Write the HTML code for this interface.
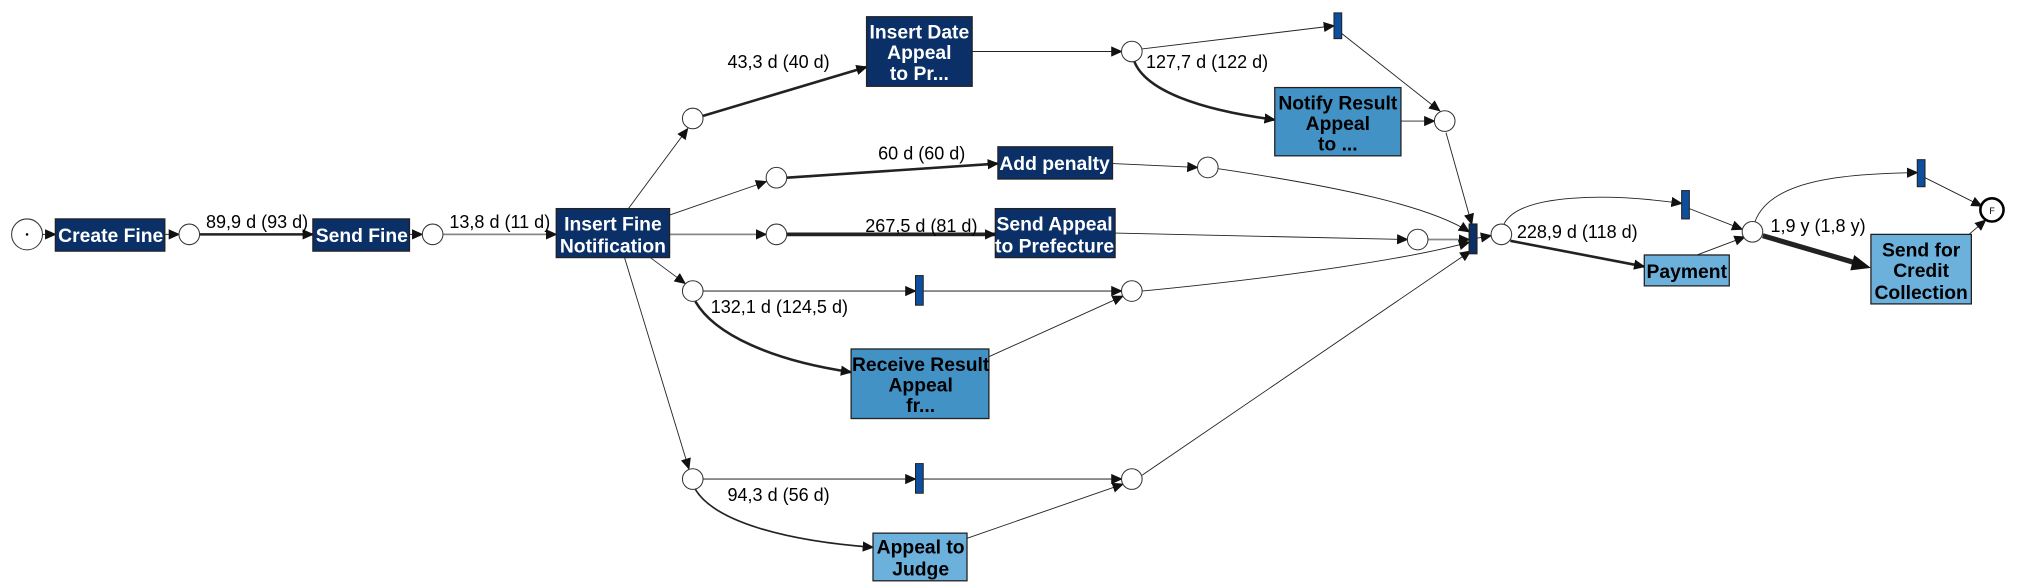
<!DOCTYPE html>
<html><head><meta charset="utf-8"><style>
html,body{margin:0;padding:0;background:#fff;}
svg{display:block;}
.l{font-family:"Liberation Sans Narrow","Liberation Sans",sans-serif;font-size:14px;fill:#000;}
.bw{font-family:"Liberation Sans Narrow","Liberation Sans",sans-serif;font-size:15px;font-weight:bold;fill:#fff;text-anchor:middle;}
.bb{font-family:"Liberation Sans Narrow","Liberation Sans",sans-serif;font-size:15px;font-weight:bold;fill:#000;text-anchor:middle;}
.d{fill:#0b3068;stroke:#222;stroke-width:1;}
.m{fill:#4392c6;stroke:#222;stroke-width:1;}
.lt{fill:#6cb0dc;stroke:#222;stroke-width:1;}
.p{fill:#fff;stroke:#333;stroke-width:0.8;}
.t{fill:#0d4f9e;stroke:#222;stroke-width:0.8;}
.e{fill:none;stroke:#222;stroke-width:0.7;}
.g{fill:none;stroke:#888;stroke-width:1.4;}
</style></head><body>
<svg width="2019" height="588" viewBox="0 0 1568 456.6" preserveAspectRatio="none" xmlns="http://www.w3.org/2000/svg">
<defs>
<marker id="a" markerUnits="userSpaceOnUse" markerWidth="9" markerHeight="8" refX="8" refY="4" orient="auto"><path d="M0,0 L9,4 L0,8 z" fill="#111"/></marker>
</defs>
<g marker-end="url(#a)">
<line class="e" x1="33" y1="182" x2="43" y2="182"/>
<line class="e" x1="128" y1="182" x2="139" y2="182"/>
<line class="e" style="stroke-width:2" x1="155" y1="182" x2="243" y2="182"/>
<line class="e" x1="318" y1="182" x2="328" y2="182"/>
<line class="g" x1="344" y1="182" x2="432" y2="182"/>
<line class="e" x1="488" y1="162" x2="534" y2="100"/>
<line class="e" style="stroke-width:2" x1="546" y1="90" x2="673" y2="52"/>
<line class="e" x1="520" y1="167" x2="595" y2="141"/>
<line class="e" style="stroke-width:2" x1="611" y1="138" x2="775" y2="127"/>
<line class="g" x1="520" y1="182" x2="595" y2="182"/>
<line class="e" style="stroke-width:3" x1="611" y1="182" x2="773" y2="182"/>
<line class="e" x1="505" y1="200" x2="532" y2="220"/>
<line class="g" x1="546" y1="226" x2="711" y2="226"/>
<line class="g" x1="717" y1="226" x2="871" y2="226"/>
<path class="e" style="stroke-width:2" d="M540,234 C555,260 600,280 661,289"/>
<line class="e" x1="768" y1="277" x2="872" y2="230"/>
<line class="e" x1="485" y1="200" x2="535" y2="364"/>
<line class="g" x1="546" y1="372" x2="711" y2="372"/>
<line class="g" x1="717" y1="372" x2="871" y2="372"/>
<path class="e" style="stroke-width:1.3" d="M540,380 C555,405 610,420 678,425"/>
<line class="e" x1="751" y1="418" x2="872" y2="376"/>
<line class="e" x1="755" y1="40" x2="871" y2="40"/>
<line class="e" x1="887" y1="38" x2="1036" y2="20"/>
<path class="e" style="stroke-width:2" d="M881,48 C890,70 930,85 990,93"/>
<line class="e" x1="1088" y1="94" x2="1114" y2="94"/>
<line class="e" x1="1042" y1="26" x2="1118" y2="86"/>
<line class="e" x1="1123" y1="103" x2="1143" y2="174"/>
<line class="e" x1="864" y1="127" x2="930" y2="130"/>
<path class="e" d="M946,131 C1040,145 1110,160 1141,180"/>
<line class="e" x1="866" y1="181" x2="1093" y2="186"/>
<line class="g" x1="1109" y1="186" x2="1141" y2="186"/>
<path class="e" d="M887,226 C1000,215 1100,200 1141,188"/>
<line class="e" x1="887" y1="369" x2="1142" y2="195"/>
<line class="e" x1="1147" y1="185" x2="1158" y2="183"/>
<path class="e" d="M1168,174 C1180,150 1250,150 1306,158"/>
<line class="e" style="stroke-width:2" x1="1173" y1="187" x2="1277" y2="207"/>
<line class="e" x1="1312" y1="162" x2="1353" y2="178"/>
<line class="e" x1="1318" y1="198" x2="1355" y2="184"/>
<path class="e" d="M1363,172 C1375,140 1430,135 1489,134"/>
<line class="e" x1="1495" y1="138" x2="1539" y2="160"/>
<line class="e" x1="1528" y1="183" x2="1542" y2="171"/>
</g>
<line class="e" style="stroke-width:4" x1="1369" y1="183" x2="1444" y2="205"/>
<path d="M1453,208 L1440,198 L1437,210 z" fill="#111"/>
<circle class="p" cx="21" cy="182" r="12"/><circle cx="21" cy="182" r="1" fill="#000"/>
<ellipse class="p" cx="147" cy="182" rx="8" ry="8"/>
<ellipse class="p" cx="336" cy="182" rx="8" ry="8"/>
<ellipse class="p" cx="538" cy="92" rx="8" ry="8"/>
<ellipse class="p" cx="603" cy="138" rx="8" ry="8"/>
<ellipse class="p" cx="603" cy="182" rx="8" ry="8"/>
<ellipse class="p" cx="538" cy="226" rx="8" ry="8"/>
<ellipse class="p" cx="538" cy="372" rx="8" ry="8"/>
<ellipse class="p" cx="879" cy="40" rx="8" ry="8"/>
<ellipse class="p" cx="1122" cy="94" rx="8" ry="8"/>
<ellipse class="p" cx="938" cy="130" rx="8" ry="8"/>
<ellipse class="p" cx="1101" cy="186" rx="8" ry="8"/>
<ellipse class="p" cx="879" cy="226" rx="8" ry="8"/>
<ellipse class="p" cx="879" cy="372" rx="8" ry="8"/>
<ellipse class="p" cx="1166" cy="182" rx="8" ry="8"/>
<ellipse class="p" cx="1361" cy="180" rx="8" ry="8"/>
<circle cx="1547" cy="163" r="9" fill="#fff" stroke="#000" stroke-width="2"/>
<text x="1547" y="166" font-family="Liberation Sans" font-size="7" text-anchor="middle">F</text>
<rect class="t" x="1036" y="10" width="6" height="20"/>
<rect class="t" x="711" y="214" width="6" height="23"/>
<rect class="t" x="711" y="360" width="6" height="23"/>
<rect class="d" x="1141" y="174" width="6" height="23"/>
<rect class="t" x="1306" y="148" width="6" height="22"/>
<rect class="t" x="1489" y="124" width="6" height="21"/>
<rect class="d" x="43" y="170" width="85" height="25"/><text class="bw" x="86" y="188">Create Fine</text>
<rect class="d" x="243" y="170" width="75" height="25"/><text class="bw" x="281" y="188">Send Fine</text>
<rect class="d" x="432" y="162" width="88" height="38"/><text class="bw" x="476" y="179">Insert Fine</text><text class="bw" x="476" y="196">Notification</text>
<rect class="d" x="673" y="13" width="82" height="54"/><text class="bw" x="714" y="30">Insert Date</text><text class="bw" x="714" y="46">Appeal</text><text class="bw" x="714" y="62">to Pr...</text>
<rect class="d" x="775" y="114" width="89" height="25"/><text class="bw" x="819" y="132">Add penalty</text>
<rect class="d" x="773" y="162" width="93" height="38"/><text class="bw" x="819" y="179">Send Appeal</text><text class="bw" x="819" y="196">to Prefecture</text>
<rect class="m" x="990" y="68" width="98" height="53"/><text class="bb" x="1039" y="85">Notify Result</text><text class="bb" x="1039" y="101">Appeal</text><text class="bb" x="1039" y="117">to ...</text>
<rect class="m" x="661" y="271" width="107" height="54"/><text class="bb" x="715" y="288">Receive Result</text><text class="bb" x="715" y="304">Appeal</text><text class="bb" x="715" y="320">fr...</text>
<rect class="lt" x="678" y="414" width="73" height="37"/><text class="bb" x="715" y="430">Appeal to</text><text class="bb" x="715" y="447">Judge</text>
<rect class="lt" x="1277" y="198" width="66" height="24"/><text class="bb" x="1310" y="216">Payment</text>
<rect class="lt" x="1453" y="182" width="78" height="54"/><text class="bb" x="1492" y="199">Send for</text><text class="bb" x="1492" y="215">Credit</text><text class="bb" x="1492" y="232">Collection</text>
<text class="l" x="160" y="177">89,9 d (93 d)</text>
<text class="l" x="349" y="177">13,8 d (11 d)</text>
<text class="l" x="565" y="53">43,3 d (40 d)</text>
<text class="l" x="890" y="53">127,7 d (122 d)</text>
<text class="l" x="682" y="124">60 d (60 d)</text>
<text class="l" x="672" y="180">267,5 d (81 d)</text>
<text class="l" x="552" y="243">132,1 d (124,5 d)</text>
<text class="l" x="565" y="389">94,3 d (56 d)</text>
<text class="l" x="1178" y="185">228,9 d (118 d)</text>
<text class="l" x="1375" y="180">1,9 y (1,8 y)</text>
</svg>
</body></html>
